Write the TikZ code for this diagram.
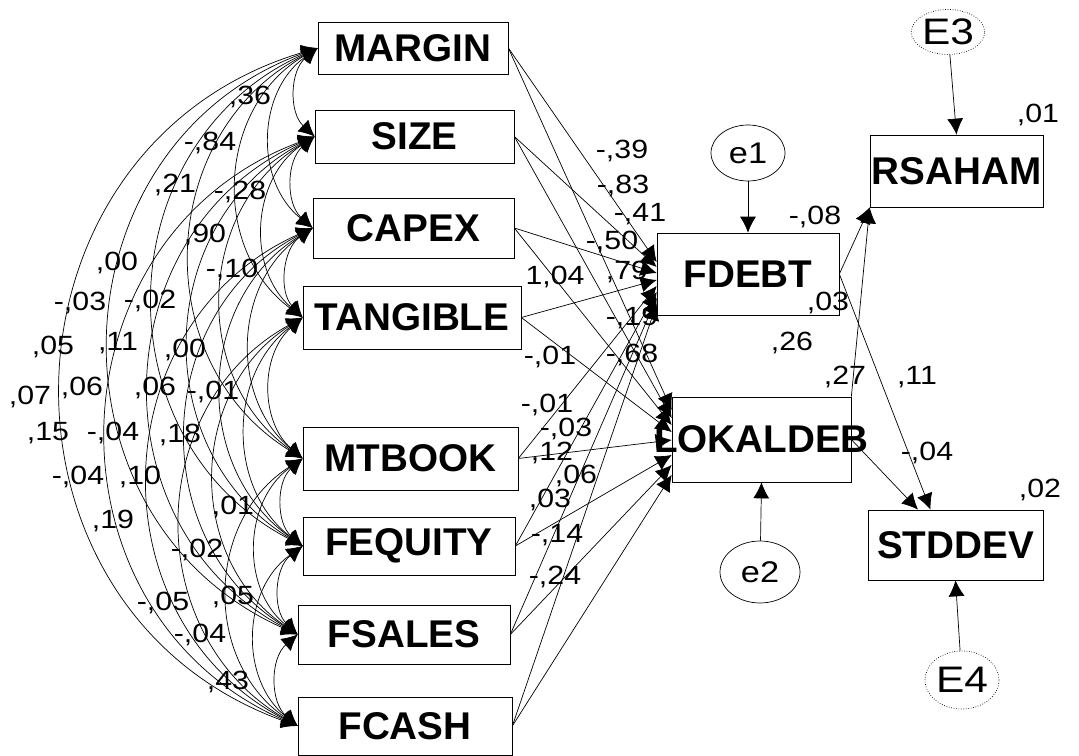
\documentclass[tikz,border=0pt]{standalone}
\usepackage{fontspec}
\setmainfont{Liberation Sans}
\newfontfamily\coeffont[FakeStretch=1.15]{Liberation Sans}
\usetikzlibrary{arrows.meta,shapes.geometric}
\tikzset{
  varbox/.style={draw, thin, inner sep=0pt, font=\bfseries\fontsize{22}{24}\selectfont},
  errcircle/.style={draw, thin, ellipse, inner sep=0pt, font=\coeffont\fontsize{17}{19}\selectfont},
  bigerr/.style={errcircle, densely dotted, font=\coeffont\fontsize{21}{23}\selectfont},
  coef/.style={inner sep=0.5pt, font=\coeffont\fontsize{15}{17}\selectfont},
  patharrow/.style={-{Latex[length=3.2mm, width=3.2mm]}, thin},
  covarrow/.style={{Latex[length=3.2mm, width=3.2mm]}-{Latex[length=3.2mm, width=3.2mm]}, thin}
}

\begin{document}
\begin{tikzpicture}[x=0.02cm, y=-0.02cm]
\useasboundingbox (0,0) rectangle (1079,756);

% exogenous variables
\node[varbox, minimum width=3.8cm, minimum height=1.04cm] (margin) at (413,48) {MARGIN};
\node[varbox, minimum width=3.98cm, minimum height=1.06cm] (size) at (414.5,136.5) {SIZE};
\node[varbox, minimum width=4.02cm, minimum height=1.2cm] (capex) at (413.5,228) {CAPEX};
\node[varbox, minimum width=4.36cm, minimum height=1.26cm] (tangible) at (412,317.5) {TANGIBLE};
\node[varbox, minimum width=4.3cm, minimum height=1.26cm] (mtbook) at (410.5,458.5) {MTBOOK};
\node[varbox, minimum width=4.24cm, minimum height=1.16cm] (fequity) at (409,546) {FEQUITY};
\node[varbox, minimum width=4.24cm, minimum height=1.18cm] (fsales) at (404,634.5) {FSALES};
\node[varbox, minimum width=4.28cm, minimum height=1.16cm] (fcash) at (405,726) {FCASH};

% endogenous variables
\node[varbox, minimum width=3.64cm, minimum height=1.64cm] (fdebt) at (748,274) {FDEBT};
\node[varbox, minimum width=3.58cm, minimum height=1.7cm] (lokal) at (761.5,439.5) {\makebox[3.4cm]{LOKALDEB}};
\node[varbox, minimum width=3.46cm, minimum height=1.44cm] (rsaham) at (956.5,171) {RSAHAM};
\node[varbox, minimum width=3.5cm, minimum height=1.4cm] (stddev) at (955.5,545) {STDDEV};

% error terms
\node[errcircle, minimum width=1.48cm, minimum height=1.12cm] (e1) at (748,153) {e1};
\node[errcircle, minimum width=1.6cm, minimum height=1.24cm] (e2) at (760,572) {e2};
\node[bigerr, minimum width=1.44cm, minimum height=0.9cm] (e3) at (948,32) {E3};
\node[bigerr, minimum width=1.48cm, minimum height=1.16cm] (e4) at (962,680) {E4};

\draw[patharrow] (e1) -- (fdebt.north);
\draw[patharrow] (e2) -- (lokal.south);
\draw[patharrow] (e3) -- (rsaham.north);
\draw[patharrow] (e4) -- (stddev.south);

% covariances
\foreach \a [count=\i] in {margin,size,capex,tangible,mtbook,fequity,fsales,fcash} {
  \foreach \b [count=\j] in {margin,size,capex,tangible,mtbook,fequity,fsales,fcash} {
    \ifnum\j>\i
      \pgfmathsetmacro\ang{49+3.8*(\j-\i-1)}
      \pgfmathsetmacro\loose{(2/3)*tan(\ang/2)/sin(\ang)/0.3915}
      \draw[covarrow] (\a.west) to[bend right=\ang, looseness=\loose] (\b.west);
    \fi
  }
}

% paths to FDEBT and LOKALDEB
\foreach \v/\fy/\ly in {margin/0.24/0.59, size/0.14/0.43, capex/0.02/0.29, tangible/-0.12/0.15,
    mtbook/-0.24/-0.01, fequity/-0.36/-0.31, fsales/-0.48/-0.51, fcash/-0.6/-0.71} {
  \draw[patharrow] (\v.east) -- ([yshift=\fy cm]fdebt.west);
  \draw[patharrow] (\v.east) -- ([yshift=\ly cm]lokal.west);
}

\draw[patharrow] (fdebt.east) -- (rsaham.south west);
\draw[patharrow] (lokal.north east) -- (rsaham.south west);
\draw[patharrow] (fdebt.east) -- ([xshift=-0.5cm]stddev.north);
\draw[patharrow] (lokal.east) -- ([xshift=-0.75cm]stddev.north);

% path coefficients
\node[coef] (k1) at (622,151) {-,39};
\node[coef] (k2) at (623,186) {-,83};
\node[coef] (k3) at (640,214) {-,41};
\node[coef] (k4) at (612,242) {-,50};
\node[coef] (k5) at (627,272) {,79};
\node[coef] (k6) at (555,277) {1,04};
\node[coef] (k7) at (632,318) {-,19};
\node[coef] (k8) at (632,355) {-,68};
\node[coef] (k9) at (550,357) {-,01};
\node[coef] (k10) at (547,405) {-,01};
\node[coef] (k11) at (566,429) {-,03};
\node[coef] (k12) at (552,453) {,12};
\node[coef] (k13) at (576,476) {,06};
\node[coef] (k14) at (550,500) {,03};
\node[coef] (k15) at (557,535) {-,14};
\node[coef] (k16) at (555,577) {-,24};
\node[coef] (k17) at (815,217) {-,08};
\node[coef] (k18) at (828,303) {,03};
\node[coef] (k19) at (792,343) {,26};
\node[coef] (k20) at (845,377) {,27};
\node[coef] (k21) at (917,377) {,11};
\node[coef] (k22) at (927,453) {-,04};
\node[coef] (r1) at (1038,115) {,01};
\node[coef] (r2) at (1040,490) {,02};

% covariance values
\node[coef] (c1) at (250,97) {,36};
\node[coef] (c2) at (210,143) {-,84};
\node[coef] (c3) at (175,185) {,21};
\node[coef] (c4) at (240,192) {-,28};
\node[coef] (c5) at (205,235) {,90};
\node[coef] (c6) at (117,263) {,00};
\node[coef] (c7) at (232,270) {-,10};
\node[coef] (c8) at (80,303) {-,03};
\node[coef] (c9) at (150,301) {-,02};
\node[coef] (c10) at (53,347) {,05};
\node[coef] (c11) at (118,343) {,11};
\node[coef] (c12) at (185,350) {,00};
\node[coef] (c13) at (30,397) {,07};
\node[coef] (c14) at (82,388) {,06};
\node[coef] (c15) at (155,388) {,06};
\node[coef] (c16) at (213,392) {-,01};
\node[coef] (c17) at (48,433) {,15};
\node[coef] (c18) at (113,433) {-,04};
\node[coef] (c19) at (180,435) {,18};
\node[coef] (c20) at (78,477) {-,04};
\node[coef] (c21) at (140,477) {,10};
\node[coef] (c22) at (113,521) {,19};
\node[coef] (c23) at (233,507) {,01};
\node[coef] (c24) at (197,550) {-,02};
\node[coef] (c25) at (233,597) {,05};
\node[coef] (c26) at (163,603) {-,05};
\node[coef] (c27) at (200,635) {-,04};
\node[coef] (c28) at (228,682) {,43};
\end{tikzpicture}
\end{document}
